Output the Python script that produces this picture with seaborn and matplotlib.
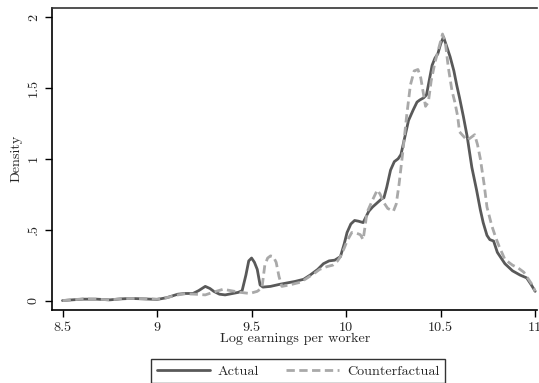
import numpy as np
import pandas as pd
import matplotlib
matplotlib.use("Agg")
import matplotlib.pyplot as plt
import seaborn as sns

# Kernel density of log earnings per worker: actual vs counterfactual
actual_x = [8.50, 8.55, 8.61, 8.68, 8.75, 8.81, 8.86, 8.93, 9.00, 9.05, 9.11, 9.15, 9.19, 9.22,
            9.255, 9.28, 9.30, 9.33, 9.36, 9.40, 9.43, 9.45, 9.47, 9.485, 9.50, 9.515, 9.53,
            9.545, 9.56, 9.60, 9.65, 9.69, 9.73, 9.775, 9.81, 9.85, 9.88, 9.91, 9.94, 9.97,
            9.99, 10.005, 10.025, 10.045, 10.065, 10.09, 10.105, 10.12, 10.14, 10.165, 10.19,
            10.20, 10.215, 10.235, 10.255, 10.275, 10.29, 10.31, 10.33, 10.355, 10.375, 10.39,
            10.41, 10.425, 10.435, 10.455, 10.47, 10.485, 10.50, 10.515, 10.53, 10.55, 10.57,
            10.585, 10.60, 10.62, 10.64, 10.665, 10.69, 10.71, 10.725, 10.745, 10.76, 10.78,
            10.80, 10.84, 10.88, 10.92, 10.955, 10.98, 11.00]
actual_y = [0.000, 0.005, 0.010, 0.010, 0.005, 0.012, 0.015, 0.012, 0.008, 0.020, 0.045, 0.050,
            0.050, 0.070, 0.100, 0.085, 0.065, 0.045, 0.040, 0.050, 0.058, 0.070, 0.180, 0.280,
            0.300, 0.270, 0.220, 0.110, 0.095, 0.100, 0.115, 0.125, 0.135, 0.150, 0.180, 0.220,
            0.260, 0.280, 0.285, 0.310, 0.400, 0.480, 0.540, 0.565, 0.560, 0.550, 0.590, 0.630,
            0.660, 0.690, 0.720, 0.725, 0.800, 0.920, 0.980, 1.000, 1.030, 1.150, 1.270, 1.345,
            1.400, 1.415, 1.430, 1.450, 1.520, 1.660, 1.710, 1.740, 1.810, 1.860, 1.800, 1.720,
            1.620, 1.520, 1.430, 1.300, 1.160, 0.940, 0.780, 0.640, 0.550, 0.460, 0.430, 0.420,
            0.340, 0.260, 0.210, 0.180, 0.160, 0.110, 0.065]

counter_x = [8.50, 8.55, 8.61, 8.68, 8.75, 8.81, 8.86, 8.93, 9.00, 9.05, 9.11, 9.15, 9.20, 9.255,
             9.30, 9.35, 9.39, 9.44, 9.49, 9.53, 9.555, 9.57, 9.585, 9.60, 9.615, 9.63, 9.645,
             9.66, 9.70, 9.76, 9.795, 9.83, 9.86, 9.90, 9.93, 9.955, 9.97, 9.99, 10.005, 10.03,
             10.055, 10.075, 10.09, 10.10, 10.11, 10.14, 10.165, 10.18, 10.20, 10.22, 10.25,
             10.265, 10.28, 10.30, 10.32, 10.34, 10.36, 10.38, 10.395, 10.41, 10.42, 10.435,
             10.45, 10.47, 10.49, 10.51, 10.525, 10.54, 10.56, 10.575, 10.59, 10.60, 10.62,
             10.64, 10.66, 10.68, 10.695, 10.71, 10.73, 10.745, 10.77, 10.79, 10.81, 10.84,
             10.88, 10.91, 10.94, 10.965, 10.985, 11.00]
counter_y = [0.000, 0.005, 0.012, 0.010, 0.005, 0.013, 0.015, 0.013, 0.010, 0.020, 0.040, 0.048,
             0.045, 0.040, 0.060, 0.080, 0.070, 0.058, 0.050, 0.065, 0.090, 0.250, 0.300, 0.315,
             0.310, 0.270, 0.170, 0.100, 0.110, 0.130, 0.160, 0.190, 0.220, 0.240, 0.250, 0.280,
             0.310, 0.370, 0.420, 0.480, 0.475, 0.465, 0.430, 0.520, 0.620, 0.710, 0.780, 0.750,
             0.690, 0.650, 0.630, 0.680, 0.820, 1.050, 1.300, 1.520, 1.620, 1.630, 1.570, 1.450,
             1.370, 1.400, 1.550, 1.680, 1.780, 1.880, 1.820, 1.650, 1.480, 1.400, 1.300, 1.190,
             1.160, 1.130, 1.150, 1.170, 1.100, 1.000, 0.820, 0.660, 0.530, 0.450, 0.380, 0.290,
             0.250, 0.230, 0.200, 0.150, 0.110, 0.065]

series_names = ["Actual", "Counterfactual"]
x_ticks = [8.5, 9, 9.5, 10, 10.5, 11]
x_tick_labels = ["8.5", "9", "9.5", "10", "10.5", "11"]
y_ticks = [0, 0.5, 1, 1.5, 2]
y_tick_labels = ["0", ".5", "1", "1.5", "2"]

df = pd.concat([
    pd.DataFrame({"earnings": actual_x, "density": actual_y, "series": series_names[0]}),
    pd.DataFrame({"earnings": counter_x, "density": counter_y, "series": series_names[1]}),
], ignore_index=True)

sns.set_style("white")
plt.rcParams["font.family"] = ["cmr10", "DejaVu Serif"]
plt.rcParams["axes.formatter.use_mathtext"] = True
FS = 10.2
plt.rcParams["font.size"] = FS

fig = plt.figure(figsize=(5.39, 3.83), dpi=100)
ax = fig.add_axes([0.0974, 0.1919, 0.899, 0.787])

sns.lineplot(data=df, x="earnings", y="density", hue="series", style="series",
             palette={"Actual": "#595959", "Counterfactual": "#a9a9a9"},
             dashes={"Actual": "", "Counterfactual": (3.0, 1.6)},
             linewidth=2.0, ax=ax, legend=True)

ax.set_xlim(8.447, 11.01)
ax.set_ylim(-0.063, 2.063)
ax.set_xticks(x_ticks, x_tick_labels)
ax.set_yticks(y_ticks, y_tick_labels)
for lab in ax.get_yticklabels():
    lab.set_rotation(90)
    lab.set_va("center")
ax.tick_params(axis="both", direction="out", length=5, width=1, color="black",
               labelsize=FS, pad=4, bottom=True, left=True)
ax.set_xlabel("Log earnings per worker", fontsize=FS, labelpad=-1)
ax.set_ylabel("Density", fontsize=FS, labelpad=4)

for side in ["left", "bottom", "top"]:
    ax.spines[side].set_color("black")
    ax.spines[side].set_linewidth(1.2)
ax.spines["top"].set_color("#333333")
ax.spines["right"].set_visible(False)

handles, labels = ax.get_legend_handles_labels()
ax.get_legend().remove()
leg = fig.legend(handles, labels, loc="upper center", bbox_to_anchor=(298 / 539, 1 - 352 / 383),
                 ncol=2, frameon=True, fancybox=False, edgecolor="black", fontsize=FS,
                 handlelength=3.75, handletextpad=0.55, columnspacing=1.9, borderpad=0.4)
leg.get_frame().set_linewidth(1.0)

fig.savefig("out.png", dpi=100)
